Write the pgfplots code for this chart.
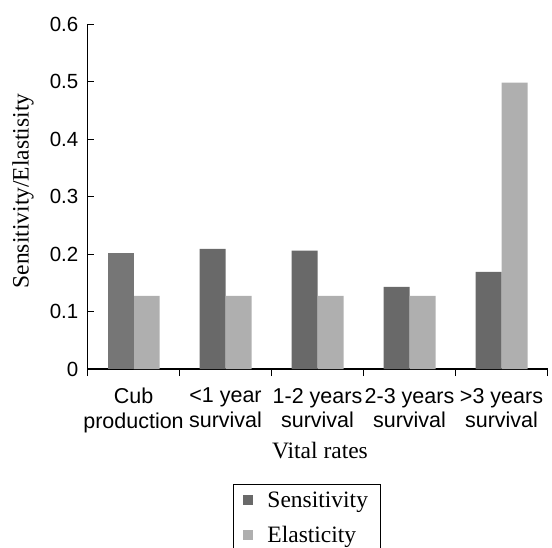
\documentclass[border=0pt]{standalone}
\usepackage{pgfplots}
\pgfplotsset{compat=1.18}
\usepackage{fontspec}
\setmainfont{Liberation Serif}
\newfontfamily\arialfont{Liberation Sans}
\definecolor{sens}{HTML}{696969}
\definecolor{senscub}{HTML}{767676}
\definecolor{elas}{HTML}{AFAFAF}
\begin{document}
\begin{tikzpicture}
\clip (0pt,0pt) rectangle (552pt,-548pt);
\begin{axis}[
  at={(87.5pt,-369pt)}, anchor=south west,
  scale only axis, width=460pt, height=345pt,
  xmin=-0.5, xmax=4.5, ymin=0, ymax=0.6,
  axis lines=left,
  axis line style={-, line width=1.3pt, black},
  every outer x axis line/.append style={-},
  every outer y axis line/.append style={-},
  every inner x axis line/.append style={-},
  every inner y axis line/.append style={-},
  tick align=inside,
  major tick length=6pt, minor tick length=7pt,
  tick style={black, line width=0.9pt},
  ytick={0,0.1,0.2,0.3,0.4,0.5,0.6},
  /pgf/number format/.cd, fixed, precision=1, assume math mode=true,
  /pgfplots/.cd,
  yticklabel style={font=\arialfont\fontsize{20.5}{24}\selectfont, inner sep=0pt, xshift=-9pt, anchor=east},
  xtick={0,1,2,3,4},
  xticklabels={{Cub\\production},{<1 year\\survival},{1-2 years\\survival},{2-3 years\\survival},{>3 years\\survival}},
  major x tick style={draw=none},
  minor xtick={-0.5,0.5,1.5,2.5,3.5,4.5},
  xticklabel style={font=\arialfont\fontsize{21.5}{24.5}\selectfont, align=center, anchor=north, inner sep=0pt, yshift=-13pt},
  xlabel={Vital rates},
  ylabel={Sensitivity/Elastisity},
  every axis x label/.style={at={(axis description cs:0.5054,-0.258)}, anchor=base, font=\fontsize{23.5}{28}\selectfont},
  every axis y label/.style={at={(axis description cs:-0.128,0.516)}, rotate=90, anchor=base, font=\fontsize{23.5}{28}\selectfont},
  ybar, bar width=26pt,
  legend style={at={(axis description cs:0.3163,-0.3333)}, anchor=north west, draw=black, line width=0.9pt,
    font=\fontsize{23.5}{28}\selectfont, inner xsep=10pt, inner ysep=5pt, row sep=14pt,
    /tikz/every odd column/.append style={column sep=12pt}},
  legend cell align=left,
]
\addplot[fill=sens, draw=none, bar shift=-13pt,
  legend image code/.code={\fill[sens] (0pt,-5pt) rectangle (10pt,5pt);}]
  coordinates {(1,0.209) (2,0.206) (3,0.143) (4,0.169)};
\addlegendentry{Sensitivity\hspace{5pt}}
\addplot[fill=elas, draw=none, bar shift=13pt,
  legend image code/.code={\fill[elas] (0pt,-5pt) rectangle (10pt,5pt);}]
  coordinates {(0,0.127) (1,0.127) (2,0.127) (3,0.127) (4,0.498)};
\addlegendentry{Elasticity}
\addplot[fill=senscub, draw=none, bar shift=-13pt, forget plot]
  coordinates {(0,0.202)};
\end{axis}
\end{tikzpicture}
\end{document}
